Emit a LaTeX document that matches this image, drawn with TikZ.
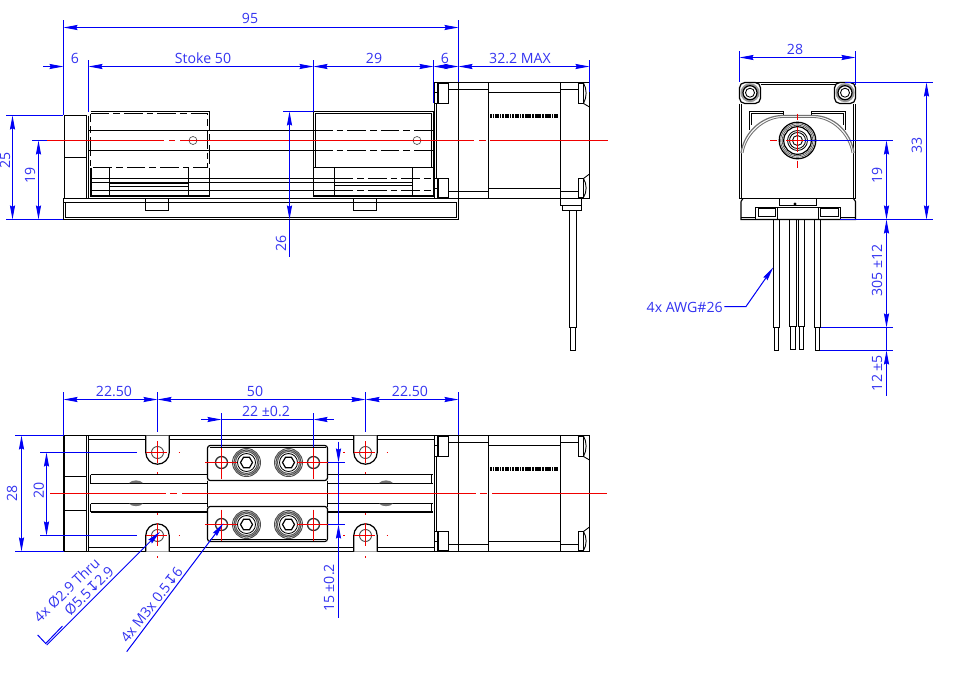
\documentclass[tikz,border=0pt]{standalone}
\usepackage{fontspec}
\setmainfont{Open Sans}
\newfontfamily\symfont{DejaVu Sans}
\usepackage{xcolor}
\usetikzlibrary{arrows.meta}
\definecolor{dimblue}{RGB}{0,0,245}
\definecolor{txtblue}{RGB}{50,50,240}
\definecolor{cline}{RGB}{240,0,0}

\begin{document}
\begin{tikzpicture}[x=0.75pt,y=-0.75pt,
      part/.style={draw=black, line width=0.9pt},
      thin part/.style={draw=black, line width=0.65pt},
      heavy/.style={draw=black, line width=1.4pt},
      hidden/.style={draw=black, line width=0.8pt, dash pattern=on 14pt off 3pt on 5pt off 3pt},
      ring/.style={draw=black!70, line width=0.5pt},
      centre/.style={draw=cline, line width=0.75pt},
      dimline/.style={draw=dimblue, line width=0.75pt, >={Stealth[length=10.5pt,width=3.8pt,inset=1pt]}},
      dimtext/.style={text=txtblue, font=\fontsize{10.6}{12}\selectfont, inner sep=0pt}
    ]
    \useasboundingbox (0,0) rectangle (957,690);

    % motor and end plate, same in both long views
    \foreach \o in {0,353}{
      \begin{scope}[shift={(0,\o)}]
        \draw[part] (434.5,82.5) rectangle (589.5,198.5);
        \draw[part] (458.5,82.5) -- (458.5,198.5) (488.5,82.5) -- (488.5,198.5) (560.5,82.5) -- (560.5,198.5);
        \draw[thin part] (448.5,89.5) -- (488.5,89.5) (448.5,191.5) -- (488.5,191.5)
          (488.5,92.5) -- (560.5,92.5) (488.5,188.5) -- (560.5,188.5)
          (560.5,89.5) -- (578.5,89.5) (560.5,191.5) -- (578.5,191.5)
          (434.5,92.5) -- (437.5,92.5) (434.5,103.5) -- (437.5,103.5) (434.5,178.5) -- (437.5,178.5) (434.5,188.5) -- (437.5,188.5)
          (436.5,103.5) -- (436.5,178.5);
        \draw[heavy] (438,83) rectangle (448.5,103.5) (438,178.5) rectangle (448.5,197.5);
        \draw[part] (578.5,83) rectangle (583.5,103.5) (578.5,178.5) rectangle (583.5,197.5);
        \draw[thin part] (583.5,83) .. controls (587,89) and (587,97) .. (583.5,103.5) -- (589.5,107)
          (583.5,178.5) .. controls (587,184) and (587,192) .. (583.5,197.5) (583.5,178.5) -- (589.5,174);
        \draw[line width=3.4pt, dash pattern=on 1.2pt off 0.75pt on 1.2pt off 0.75pt on 3pt off 0.5pt] (490,115.8) -- (559,115.8);
      \end{scope}
    }

    % side view
    \draw[part] (64.5,115.5) rectangle (86.5,198.5) (64.5,157.5) -- (86.5,157.5) (88.5,115.5) -- (88.5,198.5);
    \draw[part] (63.5,198.5) rectangle (458.5,219.5);
    \draw[thin part] (63.5,202.5) -- (456.5,202.5) (65.5,217.5) -- (456.5,217.5) (456.5,202.5) -- (456.5,217.5) (65.5,202.5) -- (65.5,217.5);
    \draw[part] (145.5,198.5) rectangle (168.5,210.5) (353.5,198.5) rectangle (376.5,210.5);
    \draw[part] (88.5,130.5) -- (314,130.5) (88.5,150.5) -- (314,150.5);
    \draw[hidden] (314,130.5) -- (434,130.5) (314,150.5) -- (434,150.5);
    \draw[part] (90.5,178.5) -- (334.5,178.5) (90.5,182.5) -- (334.5,182.5) (90.5,190.5) -- (334.5,190.5);
    \draw[part] (90.5,111.5) -- (209.5,111.5);
    \draw[hidden] (90.5,113.5) -- (207.5,113.5) -- (207.5,167.5) -- (90.5,167.5) -- (90.5,113.5);
    \draw[hidden] (209.5,111.5) -- (209.5,167.5);
    \draw[part] (209.5,167.5) -- (209.5,196.5) (109.5,167.5) -- (109.5,196) (188.5,167.5) -- (188.5,196);
    \draw[heavy] (91,167.5) -- (91,196) -- (209.5,196);
    \draw[part] (109.5,183.5) -- (188.5,183.5) (109.5,186.5) -- (188.5,186.5);
    \draw[part] (313.5,111.5) rectangle (433.5,196) (315.5,113.5) rectangle (431.5,167.5);
    \draw[part] (313.5,167.5) -- (433.5,167.5) (334.5,167.5) -- (334.5,196) (412.5,167.5) -- (412.5,196);
    \draw[part] (334.5,185.5) -- (412.5,185.5);
    \draw[hidden] (334.5,178.5) -- (433,178.5) (334.5,190.5) -- (433,190.5);
    \draw[heavy] (313.5,196) -- (433.5,196) (334.5,182.5) -- (412.5,182.5);
    \draw[ring] (193,140.5) circle[radius=4] (417,140.5) circle[radius=4];
    \draw[part] (560.5,198.5) rectangle (581.5,205.5) (562.5,205.5) rectangle (581.5,210.5);
    \draw[part] (569.5,210.5) rectangle (576.5,327.5);
    \draw[heavy] (576.5,210.5) -- (576.5,327.5);
    \draw[part] (570.5,327.5) rectangle (575.5,350.5);
    \draw[centre] (47,140.5) -- (164,140.5) (169,140.5) -- (175,140.5) (180,140.5) -- (474,140.5) (479,140.5) -- (486,140.5) (490,140.5) -- (608,140.5);

    % dimensions of the side view
    \draw[dimline] (63.5,20) -- (63.5,115) (458.5,20) -- (458.5,82) (88.5,60) -- (88.5,112) (313.5,60) -- (313.5,111.5)
      (433.5,60) -- (433.5,103) (589.5,60) -- (589.5,92);
    \draw[dimline,<->] (63.5,27.5) -- (458.5,27.5);
    \draw[dimline,->] (43,66.5) -- (63.5,66.5);
    \draw[dimline,<->] (88.5,66.5) -- (313.5,66.5);
    \draw[dimline,<->] (313.5,66.5) -- (433.5,66.5);
    \draw[dimline,<->] (433.5,66.5) -- (458.5,66.5);
    \draw[dimline,<->] (458.5,66.5) -- (589.5,66.5);
    \draw[dimline] (6,115.5) -- (63,115.5) (6,219.5) -- (63,219.5) (32,140.5) -- (47,140.5) (283,111.5) -- (313,111.5);
    \draw[dimline,<->] (12.5,115.5) -- (12.5,219.5);
    \draw[dimline,<->] (38.5,140.5) -- (38.5,219.5);
    \draw[dimline,<->] (289.5,111.5) -- (289.5,219.5);
    \draw[dimline] (289.5,219.5) -- (289.5,257);
    \node[dimtext] (lenall) at (250,18) {95};
    \node[dimtext] (lenend) at (75,58) {6};
    \node[dimtext] (lenstroke) at (203,58) {Stoke 50};
    \node[dimtext] (lencar) at (374,58) {29};
    \node[dimtext] (lenplate) at (445,58) {6};
    \node[dimtext] (lenmotor) at (520,58) {32.2 MAX};
    \node[dimtext, rotate=90] (hall) at (5,160) {25};
    \node[dimtext, rotate=90] (hshaft) at (30,175) {19};
    \node[dimtext, rotate=90] (hcar) at (281,243) {26};

    % end view
    \draw[part] (739.5,103.5) -- (739.5,198.5) -- (855.5,198.5) -- (855.5,103.5);
    \draw[thin part] (741.5,103.5) -- (741.5,198.5) (853.5,103.5) -- (853.5,198.5);
    \draw[part] (755,82.5) -- (840,82.5) (760.5,84.5) -- (835.5,84.5);
    \foreach \sx in {750,845}{
      \draw[part, fill=white, rounded corners=4pt] (\sx-10.5,82.5) rectangle (\sx+10.5,103.5);
      \fill[black!40] (\sx,92.7) circle[radius=9.5];
      \draw[part, fill=white] (\sx,92.7) circle[radius=7];
      \draw[thin part] (\sx,92.7) circle[radius=4.5];
    }
    \draw[part] (749.5,130) -- (749.5,111.5) -- (783.5,111.5) -- (783.5,115.5) (845.5,130) -- (845.5,111.5) -- (811.5,111.5) -- (811.5,115.5);
    \draw[thin part] (751.5,125) -- (751.5,113.5) -- (783.5,113.5) (843.5,125) -- (843.5,113.5) -- (811.5,113.5);
    \draw[part, draw=black!55, fill=white] (741,153) .. controls (744,132) and (762,116) .. (782,115.5) -- (814,115.5) .. controls (834,116) and (851,132) .. (854,153);
    \draw[thin part, draw=black!55] (743,153) .. controls (746,134) and (764,118) .. (782,117.5) -- (814,117.5) .. controls (832,118) and (849,134) .. (852,153);
    \draw[part, fill=white] (797.5,140.5) circle[radius=18.3];
    \draw[ring] (797.5,140.5) circle[radius=16.8] circle[radius=15.3];
    \draw[part] (797.5,140.5) circle[radius=13.8];
    \draw[thin part] (797.5,140.5) circle[radius=10] circle[radius=8] (797.5,140.5) circle[radius=5];
    \draw[centre] (770,140.5) -- (776.7,140.5) (786,140.5) -- (804,140.5) (797.5,113.5) -- (797.5,119.5) (797.5,126.5) -- (797.5,151.5) (797.5,160.5) -- (797.5,167.5);
    \draw[part] (741,201.5) -- (743,198.5) (853.5,198.5) -- (855.5,201.5) (741,201.5) -- (741,219.5) -- (855.5,219.5) -- (855.5,201.5);
    \draw[thin part] (741,217.5) -- (755.5,217.5) (840.5,217.5) -- (855.5,217.5);
    \draw[part] (779.5,198.5) rectangle (816.5,205.5) (755.5,207.5) rectangle (777.5,219.5) (818.5,207.5) rectangle (840.5,219.5) (777.5,207.5) -- (818.5,207.5);
    \draw[thin part] (758,208.5) rectangle (775,216) (820.5,208.5) rectangle (838.5,216);
    \draw[thin part] (795,204) circle[radius=1];
    \foreach \wl/\wr/\wend in {773.5/779.5/327.5, 789.5/796.5/326.5, 798.5/804.5/326.5, 814.5/820.5/327.5}{
      \draw[part] (\wl,219.5) rectangle (\wr,\wend);
      \draw[part] (\wl+1,\wend) rectangle (\wr-1,\wend+23);
    }

    % dimensions of the end view
    \draw[dimline] (739.5,51) -- (739.5,82) (855.5,51) -- (855.5,85) (845,82.5) -- (932.5,82.5) (840,219.5) -- (932.5,219.5)
      (804,140.5) -- (892.5,140.5) (820.5,327.5) -- (892.5,327.5) (820,350.5) -- (892.5,350.5);
    \draw[dimline,<->] (739.5,57.5) -- (855.5,57.5);
    \draw[dimline,<->] (926.5,82.5) -- (926.5,219.5);
    \draw[dimline,<->] (886.5,140.5) -- (886.5,219.5);
    \draw[dimline,<->] (886.5,219.5) -- (886.5,327.5);
    \draw[dimline,<-] (886.5,350.5) -- (886.5,396);
    \draw[dimline] (886.5,327.5) -- (886.5,350.5);
    \draw[dimline,->] (724.3,306.5) -- (746,306.5) -- (773.3,267.3);
    \node[dimtext] (wide) at (795,49) {28};
    \node[dimtext, rotate=90] (hend) at (916.7,145.7) {33};
    \node[dimtext, rotate=90] (hcentre) at (877,175) {19};
    \node[dimtext, rotate=90] (lenwire) at (877,270.7) {305 ±12};
    \node[dimtext, rotate=90] (lentip) at (877,373) {12 ±5};
    \node[dimtext, anchor=east] (awg) at (723,307.7) {4x AWG\#26};

    % bottom view
    \draw[part] (64.5,435.5) rectangle (86.5,551.5) (64.5,476.5) -- (86.5,476.5) (64.5,510.5) -- (86.5,510.5);
    \draw[thin part] (63.5,435.5) -- (63.5,551.5) (88.5,435.5) -- (88.5,551.5);
    \draw[part] (86.5,435.5) -- (434,435.5) (86.5,551.5) -- (434,551.5) (88.5,439.5) -- (434,439.5) (88.5,547.5) -- (434,547.5);
    \foreach \xa/\xb in {90.5/207.5, 327.5/433}{
      \draw[heavy] (\xa,474.5) -- (\xb,474.5) (\xa,512) -- (\xb,512);
      \draw[part] (\xa,483.5) -- (\xb,483.5) (\xa,503.5) -- (\xb,503.5);
    }
    \draw[part] (90.5,474.5) -- (90.5,483.5) (90.5,503.5) -- (90.5,512) (431.5,474.5) -- (431.5,483.5) (431.5,503.5) -- (431.5,512);
    \foreach \gx in {136,386}{
      \fill[black!55] (\gx-7,483) .. controls (\gx-4,479.5) and (\gx+4,479.5) .. (\gx+7,483) -- cycle;
      \fill[black!55] (\gx-7,503.6) .. controls (\gx-4,507) and (\gx+4,507) .. (\gx+7,503.6) -- cycle;
    }
    \draw[part, fill=white, rounded corners=2pt] (207.5,445.5) rectangle (327.5,480.5) (207.5,506.5) rectangle (327.5,541.5);
    \draw[part] (207.5,480.5) -- (207.5,506.5) (327.5,480.5) -- (327.5,506.5);
    \draw[thin part] (209.5,447.5) -- (325.5,447.5) (209.5,539.5) -- (325.5,539.5);
    \foreach \ex in {157.5,365.5}{
      \draw[part, fill=white] (\ex-11.7,435.5) -- (\ex-11.7,452.5) arc[start angle=180, end angle=0, radius=11.7] -- (\ex+11.7,435.5);
      \draw[part, fill=white] (\ex-11.7,551.5) -- (\ex-11.7,535.5) arc[start angle=180, end angle=360, radius=11.7] -- (\ex+11.7,551.5);
      \draw[ring, line width=0.7pt] (\ex,452.5) circle[radius=6] (\ex,535.5) circle[radius=6];
      \draw[centre] (\ex-11.7,452.5) -- (\ex+9,452.5) (\ex,441) -- (\ex,463) (\ex,472) -- (\ex,473.5) (\ex+21,452.5) -- (\ex+22.5,452.5) (\ex-22.5,452.5) -- (\ex-21,452.5);
      \draw[centre] (\ex-11.7,535.5) -- (\ex+9,535.5) (\ex,523) -- (\ex,546) (\ex,513) -- (\ex,514.5) (\ex,556) -- (\ex,557.5) (\ex+21,535.5) -- (\ex+22.5,535.5) (\ex-22.5,535.5) -- (\ex-21,535.5);
    }
    \foreach \hy in {462.5,524.5}{
      \foreach \hx in {221.5,313.5}{
        \draw[part, draw=black!80, line width=1pt] (\hx,\hy) circle[radius=6];
        \draw[centre] (\hx,\hy-15) -- (\hx,\hy+16);
      }
      \foreach \sx in {246.5,288.5}{
        \draw[ring, line width=0.7pt] (\sx,\hy) circle[radius=14] circle[radius=12.5] circle[radius=11];
        \draw[thin part] (\sx,\hy) circle[radius=9];
        \draw[part] (\sx,\hy) +(0:6) -- +(60:6) -- +(120:6) -- +(180:6) -- +(240:6) -- +(300:6) -- cycle;
      }
      \draw[centre] (205,\hy) -- (237,\hy) (296.5,\hy) -- (328,\hy);
    }
    \draw[centre] (50,493.5) -- (166,493.5) (170,493.5) -- (177,493.5) (182,493.5) -- (476,493.5) (480,493.5) -- (487,493.5) (492,493.5) -- (607,493.5);

    % dimensions of the bottom view
    \draw[dimline] (63.5,392) -- (63.5,435) (157.5,392) -- (157.5,432) (365.5,392) -- (365.5,432) (458.5,392) -- (458.5,435)
      (221.5,413) -- (221.5,447) (313.5,413) -- (313.5,447)
      (15,435.5) -- (63.5,435.5) (15,551.5) -- (63.5,551.5) (40,452.5) -- (136.5,452.5) (40,535.5) -- (136.5,535.5)
      (328,462.5) -- (345,462.5) (328,524.5) -- (345,524.5);
    \draw[dimline,<->] (63.5,399.5) -- (157.5,399.5);
    \draw[dimline,<->] (157.5,399.5) -- (365.5,399.5);
    \draw[dimline,<->] (365.5,399.5) -- (458.5,399.5);
    \draw[dimline,->] (201,419.5) -- (221.5,419.5);
    \draw[dimline] (221.5,419.5) -- (313.5,419.5);
    \draw[dimline,<-] (313.5,419.5) -- (334,419.5);
    \draw[dimline,<->] (21.5,435.5) -- (21.5,551.5);
    \draw[dimline,<->] (46.5,452.5) -- (46.5,535.5);
    \draw[dimline,->] (338.5,441.7) -- (338.5,462.5);
    \draw[dimline] (338.5,462.5) -- (338.5,524.5);
    \draw[dimline,<-] (338.5,524.5) -- (338.5,618);
    \draw[dimline,->] (46.7,645) -- (160,531.7);
    \draw[dimline] (37.7,635) -- (45.7,643.5) -- (62.5,626);
    \draw[dimline,->] (126.7,651.7) -- (223.3,523.3);
    \node[dimtext] (mounta) at (114,391) {22.50};
    \node[dimtext] (mountb) at (255,391) {50};
    \node[dimtext] (mountc) at (410,391) {22.50};
    \node[dimtext] (holes) at (266,411) {22 ±0.2};
    \node[dimtext, rotate=90] (wbase) at (12,493) {28};
    \node[dimtext, rotate=90] (wmount) at (38.7,490) {20};
    \node[dimtext, rotate=90] (wholes) at (329,588) {15 ±0.2};
    \node[dimtext, rotate=44] (thrua) at (66.7,590) {4x Ø2.9 Thru};
    \node[dimtext, rotate=45] (thrub) at (89,591) {Ø5.5{\symfont ↧}2.9};
    \node[dimtext, rotate=52] (tapnote) at (151.7,605) {4x M3x 0.5{\symfont ↧}6};
  \end{tikzpicture}
\end{document}
